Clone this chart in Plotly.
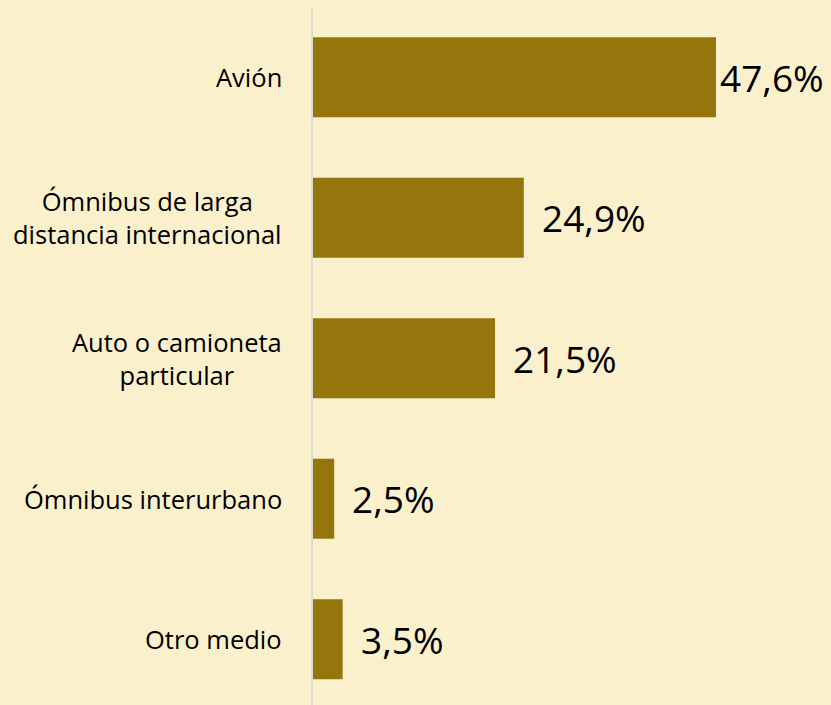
import plotly.graph_objects as go

categories = ["Avión", "Ómnibus de larga<br>distancia internacional", "Auto o camioneta<br>particular",
              "Ómnibus interurbano", "Otro medio"]
values = [47.6, 24.9, 21.5, 2.5, 3.5]
value_labels = ["47,6%", "24,9%", "21,5%", "2,5%", "3,5%"]

BG = "#FAF1CC"
BAR = "#95760D"
W, H = 831, 705
ML, MR, MT, MB = 313, 10, 7, 0
XMAX = 60.0

idx = list(range(len(categories)))

fig = go.Figure(go.Bar(
    y=idx, x=values, orientation="h",
    marker=dict(color=BAR, line=dict(width=0)),
    width=0.57, hoverinfo="skip",
))

annotations = []
px_per_unit = (W - ML - MR) / XMAX
for i, (c, v, t) in enumerate(zip(categories, values, value_labels)):
    annotations.append(dict(
        x=0, y=i, xref="x", yref="y", text=c, showarrow=False,
        xanchor="right", yanchor="middle", align="center", xshift=-29,
        font=dict(family="Open Sans", size=25.5, color="#000000"),
    ))
    bar_end_px = ML + v * px_per_unit
    shift = 16 if bar_end_px + 16 + 106 <= W else 2
    annotations.append(dict(
        x=v, y=i, xref="x", yref="y", text=t, showarrow=False,
        xanchor="left", yanchor="middle", xshift=shift,
        font=dict(family="Open Sans", size=37, color="#000000"),
    ))

plot_h = H - MT - MB
band = 140.5
span = plot_h / band

fig.update_layout(
    width=W, height=H,
    margin=dict(l=ML, r=MR, t=MT, b=MB),
    paper_bgcolor=BG, plot_bgcolor=BG,
    showlegend=False,
    annotations=annotations,
    xaxis=dict(range=[0, XMAX], visible=False, showgrid=False, zeroline=False),
    yaxis=dict(range=[span - 0.5, -0.5], showticklabels=False, showgrid=False,
               zeroline=False, showline=True, linecolor="#D9D9D9", linewidth=2,
               ticks=""),
)

fig.write_html("out.html", config={"displayModeBar": False},
               post_script="document.body.style.margin='0';document.body.style.background='%s';" % BG)
